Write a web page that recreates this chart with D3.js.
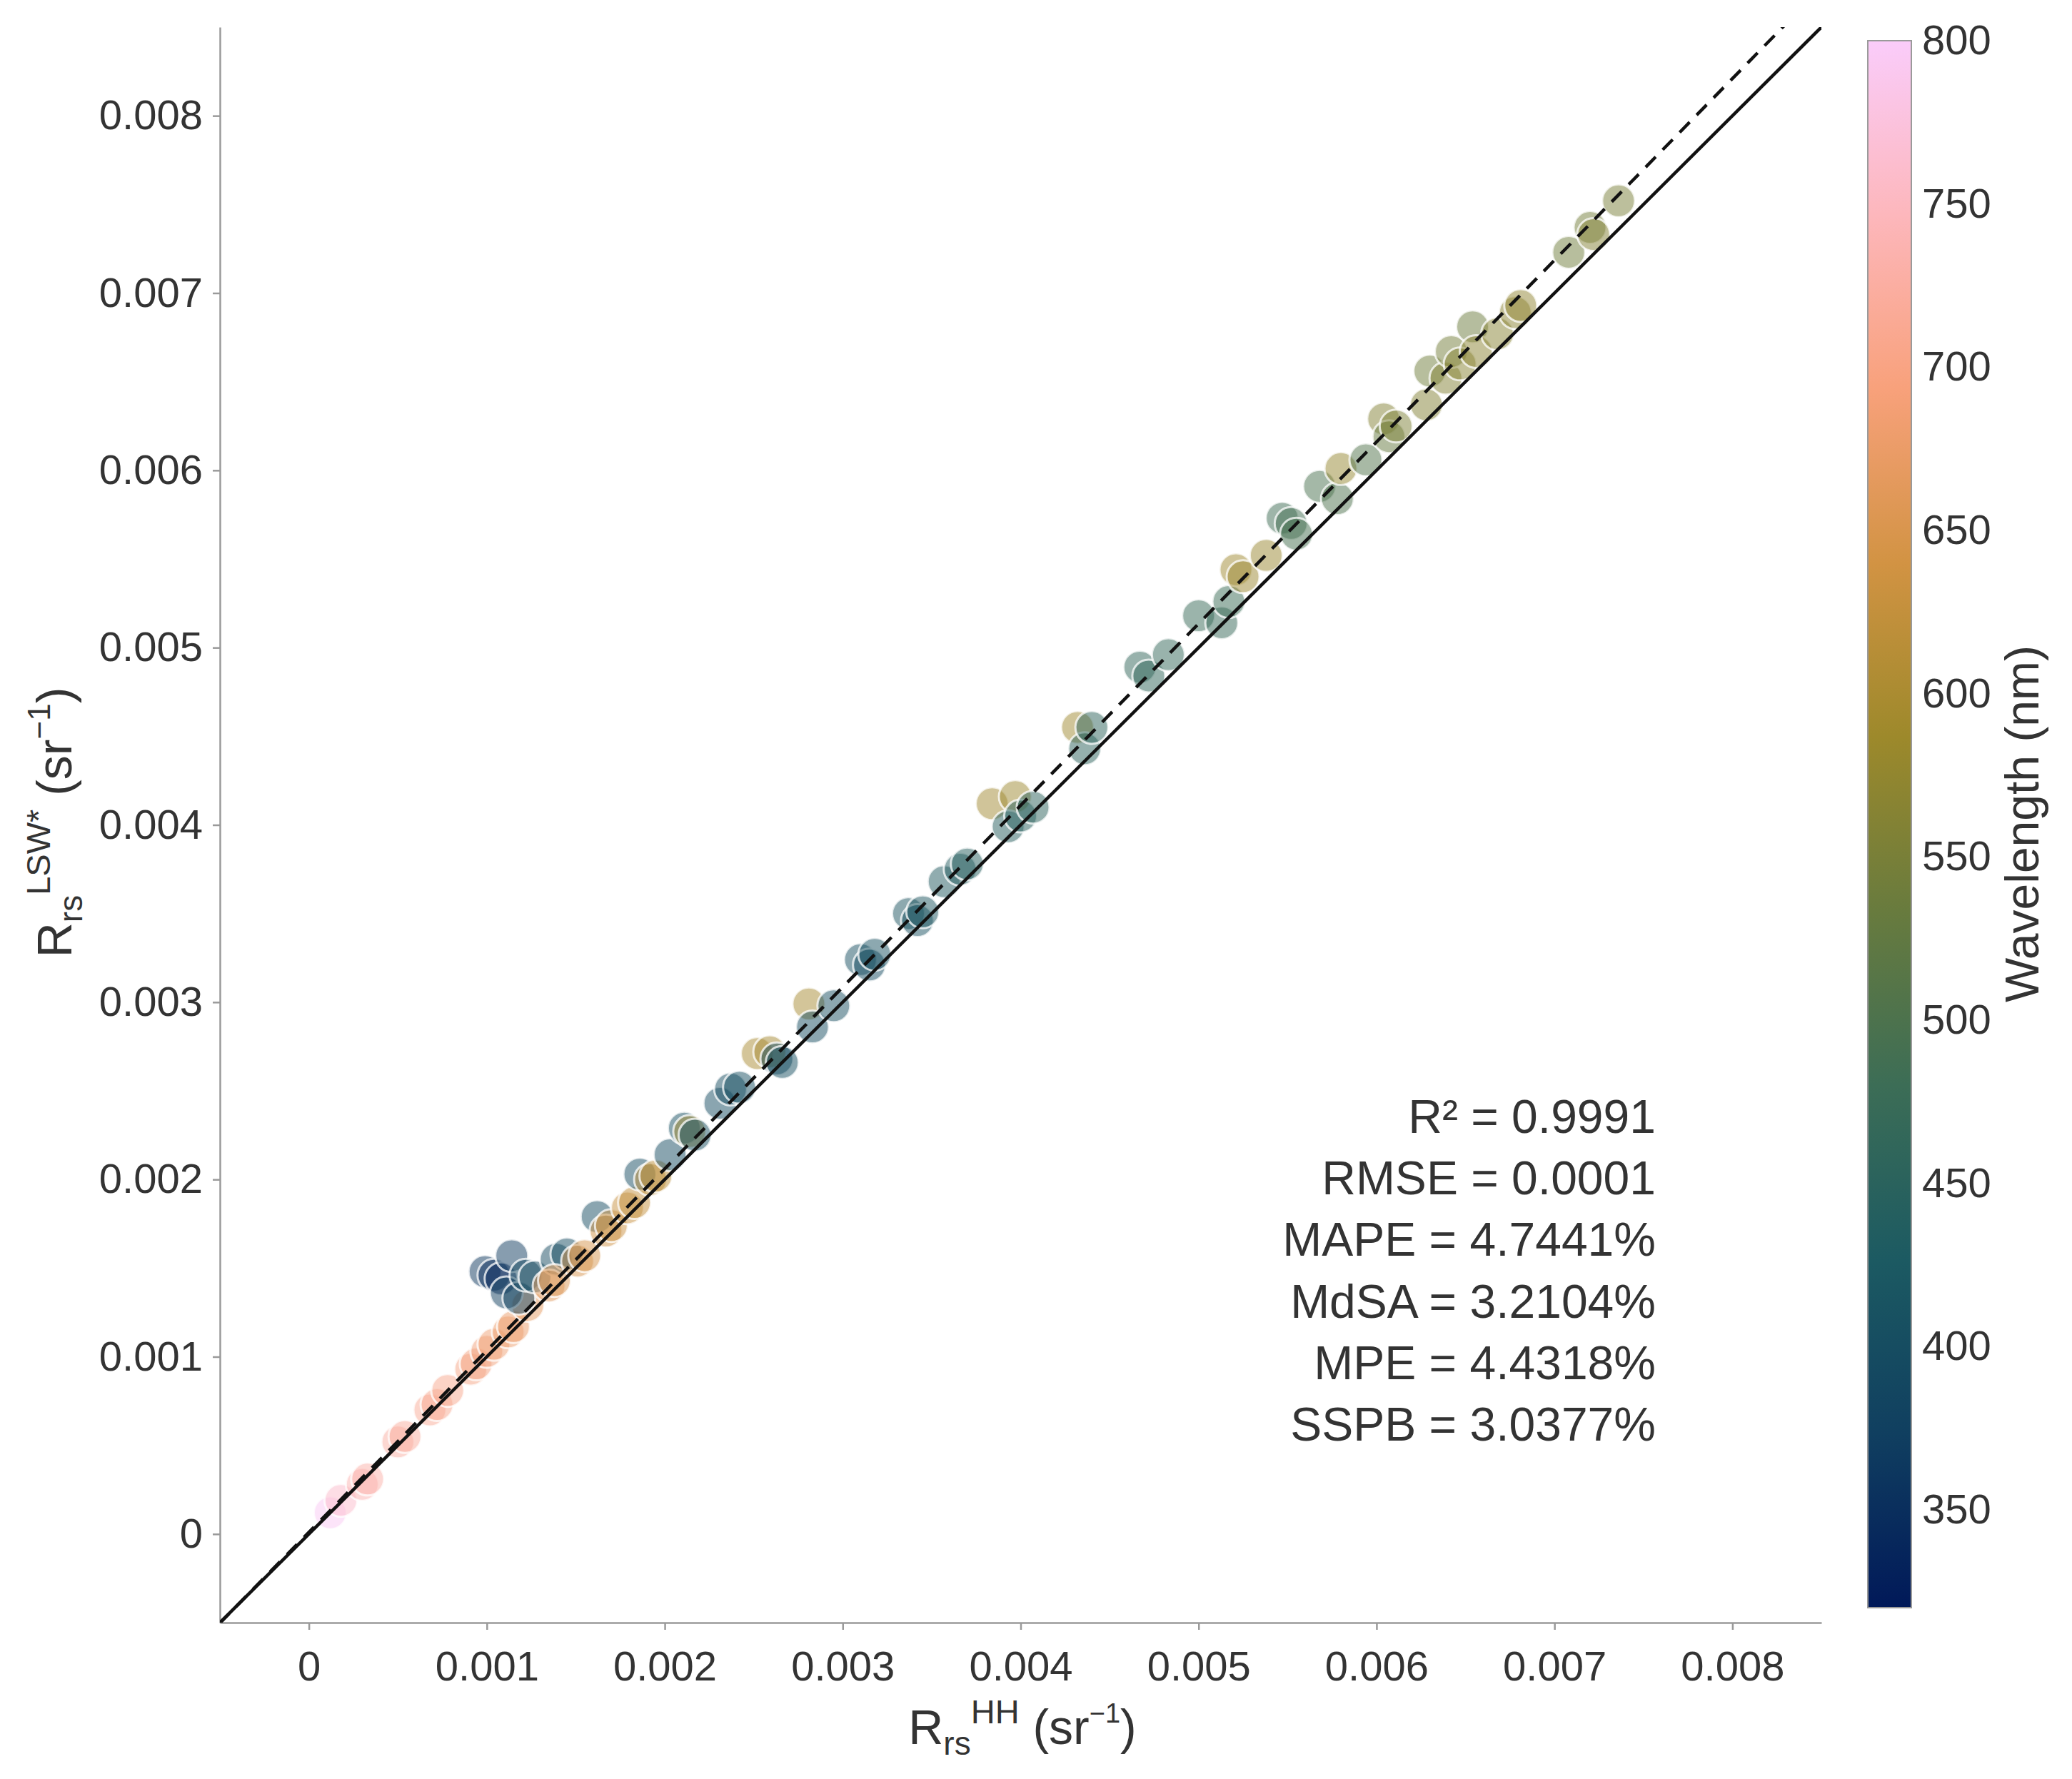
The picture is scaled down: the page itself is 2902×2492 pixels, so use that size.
<!DOCTYPE html>
<html>
<head>
<meta charset="utf-8">
<script src="https://cdn.jsdelivr.net/npm/d3@7"></script>
<style>
  body { margin: 0; background: #fff; }
  text { font-family: 'Liberation Sans', Arial, sans-serif; fill: #333; }
</style>
</head>
<body>
<div id="chart"></div>
<script>
// Rrs from the HH method (x) and LSW* method (y), sr^-1, with band wavelength (nm)
var rrsHH = [
  0.00012, 0.00018, 0.00030, 0.00033, 0.00050, 0.00054, 0.00068, 0.00072, 0.00078, 0.00091,
  0.00094, 0.00100, 0.00104, 0.00112, 0.00115, 0.00123, 0.00099, 0.00104, 0.00108, 0.00114,
  0.00111, 0.00118, 0.00122, 0.00127, 0.00139, 0.00145, 0.00135, 0.00138, 0.00151, 0.00155,
  0.00162, 0.00167, 0.00170, 0.00179, 0.00183, 0.00186, 0.00192, 0.00195, 0.00203, 0.00211,
  0.00214, 0.00217, 0.00231, 0.00237, 0.00242, 0.00252, 0.00259, 0.00263, 0.00266, 0.00281,
  0.00283, 0.00295, 0.00310, 0.00315, 0.00318, 0.00337, 0.00342, 0.00345, 0.00357, 0.00366,
  0.00370, 0.00384, 0.00397, 0.00393, 0.00400, 0.00407, 0.00432, 0.00436, 0.00440, 0.00467,
  0.00472, 0.00483, 0.00500, 0.00513, 0.00517, 0.00521, 0.00525, 0.00538, 0.00547, 0.00552,
  0.00555, 0.00568, 0.00578, 0.00580, 0.00594, 0.00604, 0.00607, 0.00611, 0.00628, 0.00630,
  0.00639, 0.00642, 0.00647, 0.00654, 0.00656, 0.00668, 0.00678, 0.00681, 0.00708, 0.00720,
  0.00722, 0.00736
];
var rrsLSW = [
  0.00012, 0.00019, 0.00028, 0.00031, 0.00052, 0.00055, 0.00070, 0.00073, 0.00081, 0.00093,
  0.00096, 0.00103, 0.00107, 0.00114, 0.00117, 0.00129, 0.00148, 0.00146, 0.00144, 0.00157,
  0.00136, 0.00133, 0.00146, 0.00145, 0.00155, 0.00158, 0.00140, 0.00143, 0.00154, 0.00157,
  0.00179, 0.00171, 0.00174, 0.00184, 0.00187, 0.00203, 0.00200, 0.00202, 0.00214, 0.00229,
  0.00227, 0.00225, 0.00243, 0.00251, 0.00252, 0.00271, 0.00272, 0.00268, 0.00266, 0.00299,
  0.00286, 0.00298, 0.00324, 0.00321, 0.00327, 0.00350, 0.00346, 0.00351, 0.00368, 0.00375,
  0.00378, 0.00412, 0.00416, 0.00399, 0.00405, 0.00410, 0.00455, 0.00443, 0.00455, 0.00489,
  0.00484, 0.00496, 0.00518, 0.00514, 0.00526, 0.00544, 0.00540, 0.00552, 0.00573, 0.00570,
  0.00564, 0.00591, 0.00584, 0.00601, 0.00606, 0.00629, 0.00619, 0.00625, 0.00637, 0.00656,
  0.00652, 0.00667, 0.00660, 0.00681, 0.00667, 0.00677, 0.00689, 0.00693, 0.00723, 0.00737,
  0.00733, 0.00752
];
var wavelength = [
  795, 760, 738, 732, 726, 722, 716, 712, 708, 702,
  698, 692, 688, 682, 678, 668, 365, 345, 340, 372,
  378, 385, 390, 395, 395, 398, 660, 656, 650, 646,
  398, 640, 636, 630, 626, 400, 620, 615, 400, 405,
  590, 408, 398, 402, 406, 600, 596, 400, 406, 598,
  402, 408, 405, 400, 410, 415, 410, 420, 430, 435,
  440, 592, 588, 440, 445, 450, 590, 450, 455, 462,
  458, 465, 470, 468, 475, 590, 586, 584, 480, 485,
  490, 495, 500, 580, 505, 560, 530, 555, 560, 540,
  560, 545, 565, 535, 570, 565, 570, 575, 540, 545,
  560, 550
];

// regression line
var fitSlope = 1.025;
var fitIntercept = 0.00001;

var axisTicks = [0, 0.001, 0.002, 0.003, 0.004, 0.005, 0.006, 0.007, 0.008];
var cbarTicks = [350, 400, 450, 500, 550, 600, 650, 700, 750, 800];
var stats = ['R\u00B2 = 0.9991', 'RMSE = 0.0001', 'MAPE = 4.7441%', 'MdSA = 3.2104%', 'MPE = 4.4318%', 'SSPB = 3.0377%'];

// batlow colormap (Crameri), evenly spaced stops
var batlow = ['#011959', '#103F60', '#1C5A62', '#3C6D56', '#687B3E', '#9D892B', '#D29343', '#F8A17B', '#FDB7BC', '#FACCFA'];

var W = 2902, H = 2492;
var plotLeft = 308, plotRight = 2551, plotTop = 38, plotBottom = 2273;

var svg = d3.select('#chart').append('svg')
    .attr('width', W)
    .attr('height', H);

var x = d3.scaleLinear().domain([-0.0005, 0.0085]).range([plotLeft, plotRight]);
var y = d3.scaleLinear().domain([-0.0005, 0.0085]).range([plotBottom, plotTop]);

var wlDomain = [320, 800];
var colorT = d3.scaleLinear().domain(wlDomain).range([0, 1]);
var batlowInterp = d3.interpolateRgbBasis(batlow);
var color = function(w) { return batlowInterp(colorT(w)); };

var fmt = function(d) { return d === 0 ? '0' : d3.format('.3f')(d); };

svg.append('defs').append('clipPath')
    .attr('id', 'plotClip')
  .append('rect')
    .attr('x', plotLeft).attr('y', plotTop)
    .attr('width', plotRight - plotLeft).attr('height', plotBottom - plotTop);

// axes
var xAxis = svg.append('g')
    .attr('transform', 'translate(0,' + plotBottom + ')')
    .call(d3.axisBottom(x).tickValues(axisTicks).tickFormat(fmt).tickSize(10).tickSizeOuter(0).tickPadding(30));
var yAxis = svg.append('g')
    .attr('transform', 'translate(' + plotLeft + ',0)')
    .call(d3.axisLeft(y).tickValues(axisTicks).tickFormat(fmt).tickSize(10).tickSizeOuter(0).tickPadding(14));

[xAxis, yAxis].forEach(function(a) {
  a.select('.domain').attr('stroke', '#9a9a9a').attr('stroke-width', 2.5);
  a.selectAll('.tick line').attr('stroke', '#9a9a9a').attr('stroke-width', 2.5);
  a.selectAll('.tick text')
    .attr('fill', '#333')
    .attr('font-size', 58)
    .attr('font-family', "'Liberation Sans', Arial, sans-serif");
});

// points
var data = rrsHH.map(function(d, i) { return { hh: d, lsw: rrsLSW[i], wl: wavelength[i] }; });

svg.append('g')
    .attr('clip-path', 'url(#plotClip)')
  .selectAll('circle')
  .data(data)
  .enter().append('circle')
    .attr('cx', function(d) { return x(d.hh); })
    .attr('cy', function(d) { return y(d.lsw); })
    .attr('r', 23)
    .attr('fill', function(d) { return color(d.wl); })
    .attr('fill-opacity', 0.5)
    .attr('stroke', '#fff')
    .attr('stroke-opacity', 0.75)
    .attr('stroke-width', 3);

// 1:1 line and fitted line
var lines = svg.append('g').attr('clip-path', 'url(#plotClip)');
lines.append('line')
    .attr('x1', x(-0.0005)).attr('y1', y(-0.0005))
    .attr('x2', x(0.0085)).attr('y2', y(0.0085))
    .attr('stroke', '#111').attr('stroke-width', 4.5);
lines.append('line')
    .attr('x1', x(-0.0006)).attr('y1', y(fitSlope * -0.0006 + fitIntercept))
    .attr('x2', x(0.0085)).attr('y2', y(fitSlope * 0.0085 + fitIntercept))
    .attr('stroke', '#111').attr('stroke-width', 4.5)
    .attr('stroke-dasharray', '20,14');

// stats text
svg.append('g').selectAll('text')
  .data(stats)
  .enter().append('text')
    .attr('x', 2319)
    .attr('y', function(d, i) { return 1587 + i * 86.2; })
    .attr('text-anchor', 'end')
    .attr('font-size', 66)
    .text(function(d) { return d; });

// axis labels with sub/superscripts
function richLabel(g, parts) {
  var t = g.append('text').attr('text-anchor', 'middle').attr('font-size', 68);
  parts.forEach(function(p) {
    t.append('tspan').attr('dy', p.dy || 0).attr('font-size', p.size || 68).text(p.t);
  });
  return t;
}

var xl = svg.append('g').attr('transform', 'translate(1432,2443)');
richLabel(xl, [
  { t: 'R' },
  { t: 'rs', size: 46, dy: 15 },
  { t: 'HH', size: 47, dy: -44 },
  { t: ' (sr', dy: 29 },
  { t: '\u22121', size: 38, dy: -30 },
  { t: ')', dy: 30 }
]);

var yl = svg.append('g').attr('transform', 'translate(100,1152) rotate(-90)');
richLabel(yl, [
  { t: 'R' },
  { t: 'rs', size: 46, dy: 15 },
  { t: 'LSW*', size: 47, dy: -45 },
  { t: '  (sr', dy: 30 },
  { t: '\u22121', size: 44, dy: -30 },
  { t: ')', dy: 30 }
]);

// colorbar
var cbLeft = 2616, cbWidth = 61, cbTop = 57, cbBottom = 2252;
var cy = d3.scaleLinear().domain(wlDomain).range([cbBottom, cbTop]);

var grad = svg.select('defs').append('linearGradient')
    .attr('id', 'batlowGrad')
    .attr('x1', 0).attr('y1', 1).attr('x2', 0).attr('y2', 0);
batlow.forEach(function(c, i) {
  grad.append('stop')
    .attr('offset', i / (batlow.length - 1))
    .attr('stop-color', c);
});

svg.append('rect')
    .attr('x', cbLeft).attr('y', cbTop)
    .attr('width', cbWidth).attr('height', cbBottom - cbTop)
    .attr('fill', 'url(#batlowGrad)')
    .attr('stroke', '#9a9a9a')
    .attr('stroke-width', 2);

var cbAxis = svg.append('g')
    .attr('transform', 'translate(' + (cbLeft + cbWidth) + ',0)')
    .call(d3.axisRight(cy).tickValues(cbarTicks).tickSize(0).tickPadding(15));
cbAxis.select('.domain').remove();
cbAxis.selectAll('.tick text')
    .attr('fill', '#333')
    .attr('font-size', 58)
    .attr('font-family', "'Liberation Sans', Arial, sans-serif");

svg.append('text')
    .attr('transform', 'translate(2855,1154) rotate(-90)')
    .attr('text-anchor', 'middle')
    .attr('font-size', 66)
    .text('Wavelength (nm)');
</script>
</body>
</html>
